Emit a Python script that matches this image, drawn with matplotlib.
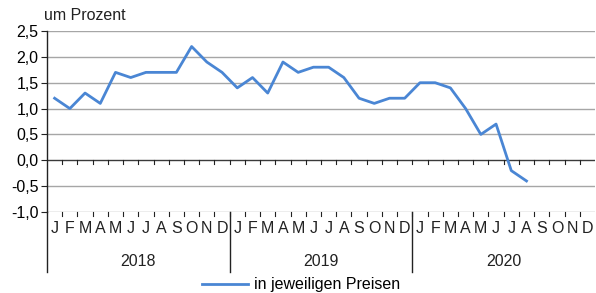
import numpy as np
import matplotlib.pyplot as plt
import matplotlib.transforms as mtransforms

plt.rcParams['font.family'] = ['Liberation Sans', 'DejaVu Sans']

# data
years = ['2018', '2019', '2020']
month_labels = ['J', 'F', 'M', 'A', 'M', 'J', 'J', 'A', 'S', 'O', 'N', 'D']
values = [1.2, 1.0, 1.3, 1.1, 1.7, 1.6, 1.7, 1.7, 1.7, 2.2, 1.9, 1.7,
          1.4, 1.6, 1.3, 1.9, 1.7, 1.8, 1.8, 1.6, 1.2, 1.1, 1.2, 1.2,
          1.5, 1.5, 1.4, 1.0, 0.5, 0.7, -0.2, -0.4]
series_name = 'in jeweiligen Preisen'
yticks = [-1.0, -0.5, 0.0, 0.5, 1.0, 1.5, 2.0, 2.5]

n_months = 12 * len(years)
fs = 11.5

fig = plt.figure(figsize=(5.96, 2.93), dpi=100)
ax = fig.add_axes([47 / 596, 1 - 212 / 293, 548 / 596, 181 / 293])

# gridlines
for y in yticks:
    col = '#3a3a3a' if y == 0 else '#a6a6a6'
    ax.axhline(y, color=col, lw=1.0, zorder=1)

# line
x = np.arange(len(values)) + 0.5
ax.plot(x, values, color='#4a86d4', lw=2.0, zorder=3, label=series_name)

ax.set_xlim(0, n_months)
ax.set_ylim(-1.0, 2.5)
ax.set_yticks(yticks)
ax.set_yticklabels([f'{v:.1f}'.replace('.', ',') for v in yticks], fontsize=fs)
ax.tick_params(axis='y', length=4, width=0.8, color='#222222', pad=2)
ax.set_xticks([])

for s in ['top', 'right', 'bottom']:
    ax.spines[s].set_visible(False)
ax.spines['left'].set_color('#222222')
ax.spines['left'].set_linewidth(1.0)

# month boundary ticks on the 0 line and the bottom line
for b in range(1, n_months):
    ax.plot([b, b], [0, -0.07], color='#222222', lw=0.8, zorder=2)
    ax.plot([b, b], [-1.0, -1.07], color='#222222', lw=0.8, zorder=2, clip_on=False)

trans = mtransforms.blended_transform_factory(ax.transData, ax.transAxes)

# month letters
for i in range(n_months):
    ax.text(i + 0.5, -0.09, month_labels[i % 12], transform=trans,
            ha='center', va='center', fontsize=fs, color='#222222')

# year labels and separators
for k, yr in enumerate(years):
    ax.text(12 * k + 6, -0.275, yr, transform=trans,
            ha='center', va='center', fontsize=fs, color='#222222')
    ax.plot([12 * k, 12 * k], [0, -0.33], transform=trans, color='#222222',
            lw=1.0, clip_on=False)

fig.text(44 / 596, 1 - 15 / 293, 'um Prozent', ha='left', va='center',
         fontsize=fs, color='#222222')

fig.legend(loc='center', bbox_to_anchor=(0.505, 1 - 285 / 293), frameon=False,
           fontsize=fs, handlelength=2.9, handletextpad=0.4, borderaxespad=0,
           borderpad=0)

fig.savefig('out.png', dpi=100)
